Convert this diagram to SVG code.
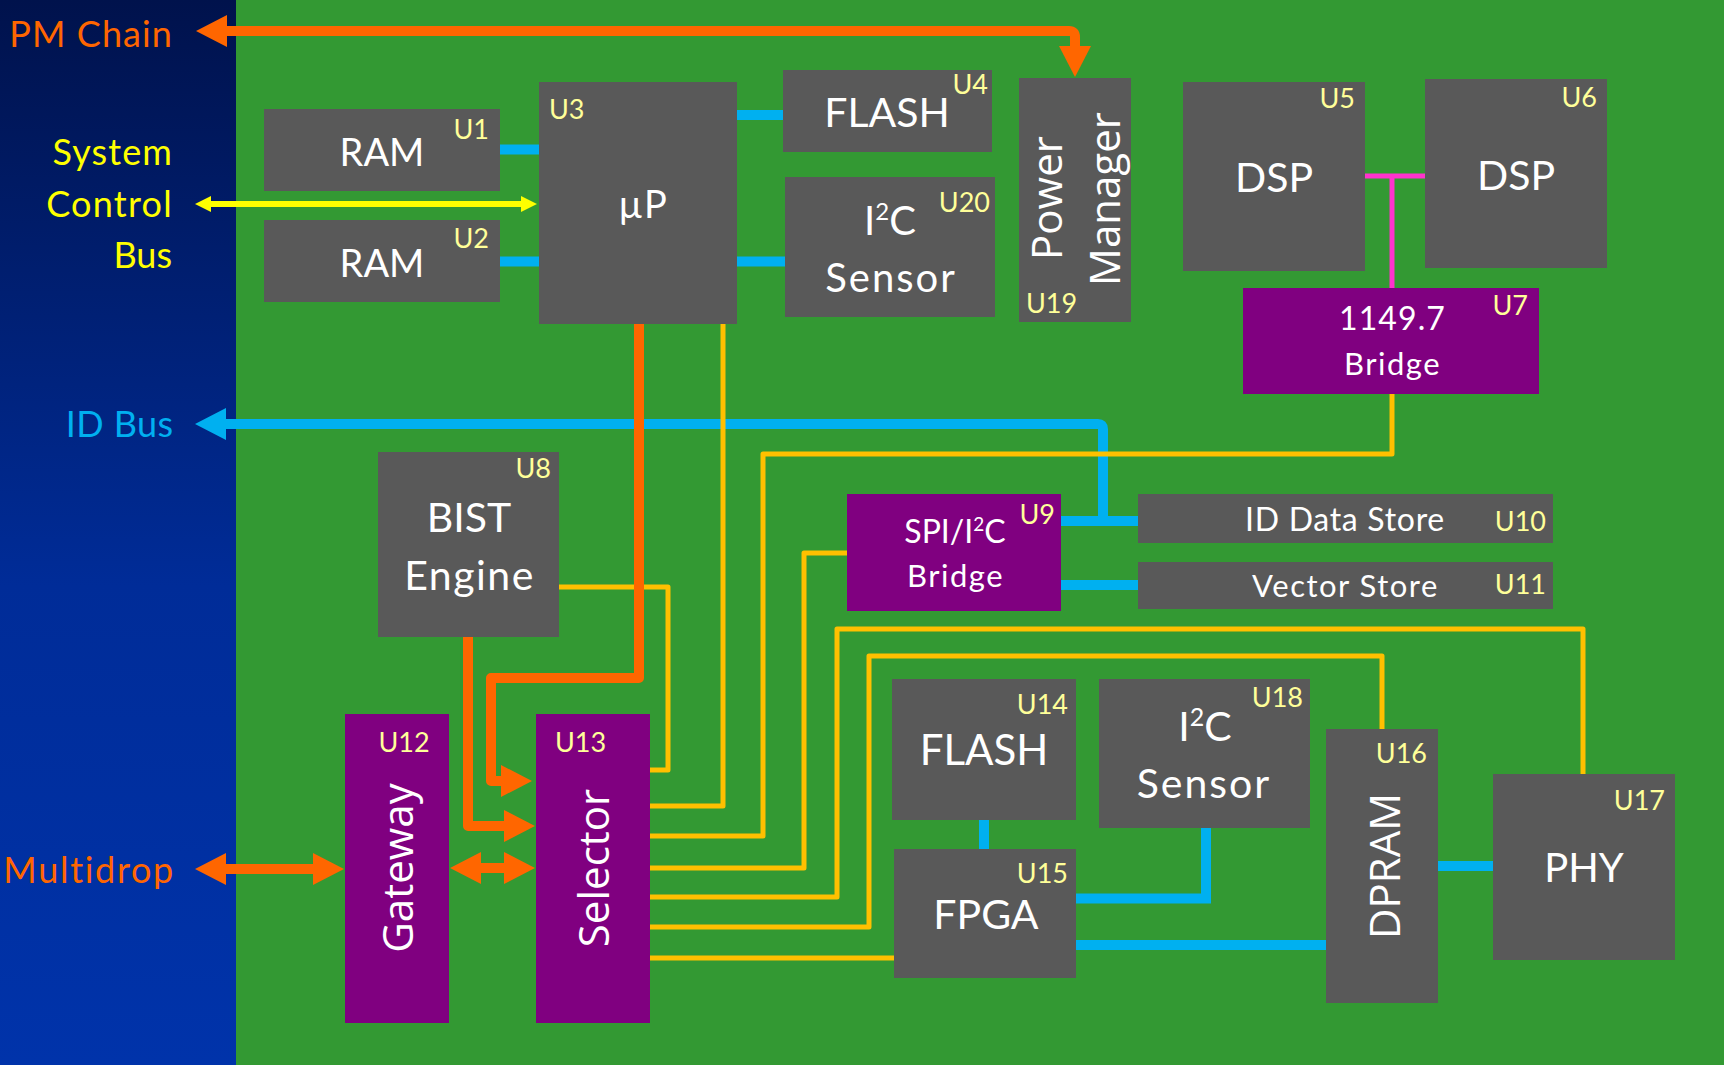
<svg xmlns="http://www.w3.org/2000/svg" width="1724" height="1065" viewBox="0 0 1724 1065">
<style>
.g{fill:#595959}
.p{fill:#800080}
.t{font-family:Lato,"Liberation Sans",sans-serif;fill:#ffffff;text-anchor:middle}
.r{font-family:"Open Sans","DejaVu Sans",sans-serif;fill:#ffffff;text-anchor:middle;font-size:42px}
.u{font-family:Lato,"Liberation Sans",sans-serif;fill:#ffff99;font-size:27px}
.ue{text-anchor:end}
.side{font-family:Lato,"Liberation Sans",sans-serif;text-anchor:end;font-size:36px}
.bl{fill:none;stroke:#00b0f0;stroke-width:10}
.ye{fill:none;stroke:#ffc000;stroke-width:5;stroke-linejoin:round}
.or{fill:none;stroke:#ff6600;stroke-width:10;stroke-linejoin:round}
.pk{fill:none;stroke:#ff33cc;stroke-width:5}
.sc{fill:none;stroke:#ffff00;stroke-width:6}
</style>
<defs>
<linearGradient id="panel" x1="0" y1="0" x2="0" y2="1">
<stop offset="0" stop-color="#00124c"/>
<stop offset="0.55" stop-color="#002c98"/>
<stop offset="1" stop-color="#0033aa"/>
</linearGradient>
<marker id="ao" markerUnits="userSpaceOnUse" markerWidth="32" markerHeight="32" viewBox="0 -16 32 32" refX="1" refY="0" orient="auto-start-reverse">
<path d="M0,-16 L31,0 L0,16 Z" fill="#ff6600"/>
</marker>
<marker id="ab" markerUnits="userSpaceOnUse" markerWidth="32" markerHeight="32" viewBox="0 -16 32 32" refX="1" refY="0" orient="auto-start-reverse">
<path d="M0,-16 L31,0 L0,16 Z" fill="#00b0f0"/>
</marker>
<marker id="ay" markerUnits="userSpaceOnUse" markerWidth="17" markerHeight="16" viewBox="0 -8 17 16" refX="1" refY="0" orient="auto-start-reverse">
<path d="M0,-8 L16,0 L0,8 Z" fill="#ffff00"/>
</marker>
</defs>

<rect x="0" y="0" width="236" height="1065" fill="url(#panel)"/>
<rect x="236" y="0" width="1488" height="1065" fill="#339933"/>

<g id="side-labels">
<text class="side" x="173" y="47" fill="#ff6600" letter-spacing="1.1">PM Chain</text>
<text class="side" x="173" y="165" fill="#ffff00" font-size="35" letter-spacing="1.1">System</text>
<text class="side" x="173" y="217" fill="#ffff00" font-size="35" letter-spacing="1.25">Control</text>
<text class="side" x="172" y="268" fill="#ffff00" font-size="35">Bus</text>
<text class="side" x="173.5" y="437" fill="#00b0f0" letter-spacing="0.4">ID Bus</text>
<text class="side" x="175" y="883" fill="#ff6600" font-size="35" letter-spacing="1.7">Multidrop</text>
</g>

<g id="connectors">
<path class="bl" d="M500,149.5 H539"/>
<path class="bl" d="M500,261.5 H539"/>
<path class="bl" d="M737,115 H783"/>
<path class="bl" d="M737,261.5 H785"/>
<path class="bl" d="M225,424 H1098 Q1103,424 1103,429 V521" marker-start="url(#ab)"/>
<path class="bl" d="M1061,521 H1138"/>
<path class="bl" d="M1061,585 H1138"/>
<path class="bl" d="M984,820 V849"/>
<path class="bl" d="M1206,828 V898.5 H1076"/>
<path class="bl" d="M1076,945 H1326"/>
<path class="bl" d="M1438,866 H1493"/>
<path class="pk" d="M1365,176 H1425 M1392,176 V288"/>
<path class="sc" d="M210,204 H522" marker-start="url(#ay)" marker-end="url(#ay)"/>
<path class="ye" d="M559,587 H668 V770 H650"/>
<path class="ye" d="M723,324 V806 H650"/>
<path class="ye" d="M1392,394 V454 H763 V836 H650"/>
<path class="ye" d="M847,553 H804 V868 H650"/>
<path class="ye" d="M1583,774 V629 H837 V897 H650"/>
<path class="ye" d="M1382,729 V656 H869 V927 H650"/>
<path class="ye" d="M650,958 H894"/>
<path class="or" d="M226,31 H1069 Q1075,31 1075,37 V47" marker-start="url(#ao)" marker-end="url(#ao)"/>
<path class="or" d="M639,324 V678 H491 V781 H502" marker-end="url(#ao)"/>
<path class="or" d="M468,637 V826 H505" marker-end="url(#ao)"/>
<path class="or" d="M225,869 H314" marker-start="url(#ao)" marker-end="url(#ao)"/>
<path class="or" d="M480,868 H505" marker-start="url(#ao)" marker-end="url(#ao)"/>
</g>

<g id="U1"><rect class="g" x="264" y="109" width="236" height="82"/>
<text class="t" x="382" y="166" font-size="38">RAM</text><text class="u ue" x="489" y="139">U1</text></g>
<g id="U2"><rect class="g" x="264" y="220" width="236" height="82"/>
<text class="t" x="382" y="277" font-size="38">RAM</text><text class="u ue" x="489" y="248">U2</text></g>
<g id="U3"><rect class="g" x="539" y="82" width="198" height="242"/>
<text class="t" x="643" y="218" font-size="38" letter-spacing="1">µP</text><text class="u" x="549" y="119">U3</text></g>
<g id="U4"><rect class="g" x="783" y="70" width="209" height="82"/>
<text class="t" x="887" y="127" font-size="41">FLASH</text><text class="u ue" x="988" y="94">U4</text></g>
<g id="U20"><rect class="g" x="785" y="177" width="210" height="140"/>
<text class="t" x="890" y="235" font-size="40">I<tspan font-size="24" dy="-15">2</tspan><tspan dy="15">C</tspan></text>
<text class="t" x="891" y="292" font-size="40" letter-spacing="2">Sensor</text><text class="u ue" x="990" y="212">U20</text></g>
<g id="U19"><rect class="g" x="1019" y="78" width="112" height="244"/>
<text class="r" transform="translate(1062,198) rotate(-90)">Power</text>
<text class="r" transform="translate(1120,199) rotate(-90)">Manager</text>
<text class="u" x="1026" y="313">U19</text></g>
<g id="U5"><rect class="g" x="1183" y="82" width="182" height="189"/>
<text class="t" x="1274" y="192" font-size="41">DSP</text><text class="u ue" x="1355" y="108">U5</text></g>
<g id="U6"><rect class="g" x="1425" y="79" width="182" height="189"/>
<text class="t" x="1516" y="190" font-size="41">DSP</text><text class="u ue" x="1597" y="107">U6</text></g>
<g id="U7"><rect class="p" x="1243" y="288" width="296" height="106"/>
<text class="t" x="1392.5" y="330" font-size="32" letter-spacing="1.1">1149.7</text>
<text class="t" x="1392.5" y="375" font-size="31" letter-spacing="1.5">Bridge</text><text class="u ue" x="1528" y="315">U7</text></g>
<g id="U8"><rect class="g" x="378" y="452" width="181" height="185"/>
<text class="t" x="469" y="532" font-size="41">BIST</text>
<text class="t" x="469.5" y="590" font-size="41" letter-spacing="1.5">Engine</text><text class="u ue" x="551" y="478">U8</text></g>
<g id="U9"><rect class="p" x="847" y="494" width="214" height="117"/>
<text class="t" x="955" y="543" font-size="32">SPI/I<tspan font-size="19" dy="-12">2</tspan><tspan dy="12">C</tspan></text>
<text class="t" x="955.5" y="587" font-size="31" letter-spacing="1.5">Bridge</text><text class="u ue" x="1055" y="524">U9</text></g>
<g id="U10"><rect class="g" x="1138" y="494" width="415" height="49"/>
<text class="t" x="1345" y="531" font-size="32" letter-spacing="0.7">ID Data Store</text><text class="u ue" x="1546" y="531">U10</text></g>
<g id="U11"><rect class="g" x="1138" y="562" width="415" height="47"/>
<text class="t" x="1345.5" y="597" font-size="31" letter-spacing="1.5">Vector Store</text><text class="u ue" x="1546" y="594">U11</text></g>
<g id="U12"><rect class="p" x="345" y="714" width="104" height="309"/>
<text class="r" transform="translate(413,868) rotate(-90)">Gateway</text>
<text class="u" x="404" y="752" text-anchor="middle">U12</text></g>
<g id="U13"><rect class="p" x="536" y="714" width="114" height="309"/>
<text class="r" transform="translate(609,868) rotate(-90)">Selector</text>
<text class="u" x="555" y="752">U13</text></g>
<g id="U14"><rect class="g" x="892" y="679" width="184" height="141"/>
<text class="t" x="984" y="765" font-size="42">FLASH</text><text class="u ue" x="1068" y="714">U14</text></g>
<g id="U18"><rect class="g" x="1099" y="679" width="211" height="149"/>
<text class="t" x="1205" y="741" font-size="41">I<tspan font-size="25" dy="-15">2</tspan><tspan dy="15">C</tspan></text>
<text class="t" x="1204" y="798" font-size="41" letter-spacing="2">Sensor</text><text class="u ue" x="1303" y="707">U18</text></g>
<g id="U15"><rect class="g" x="894" y="849" width="182" height="129"/>
<text class="t" x="986" y="929" font-size="41">FPGA</text><text class="u ue" x="1068" y="883">U15</text></g>
<g id="U16"><rect class="g" x="1326" y="729" width="112" height="274"/>
<text class="r" transform="translate(1400,866) rotate(-90)">DPRAM</text>
<text class="u ue" x="1427" y="763">U16</text></g>
<g id="U17"><rect class="g" x="1493" y="774" width="182" height="186"/>
<text class="t" x="1584" y="882" font-size="40">PHY</text><text class="u ue" x="1665" y="810">U17</text></g>
</svg>
